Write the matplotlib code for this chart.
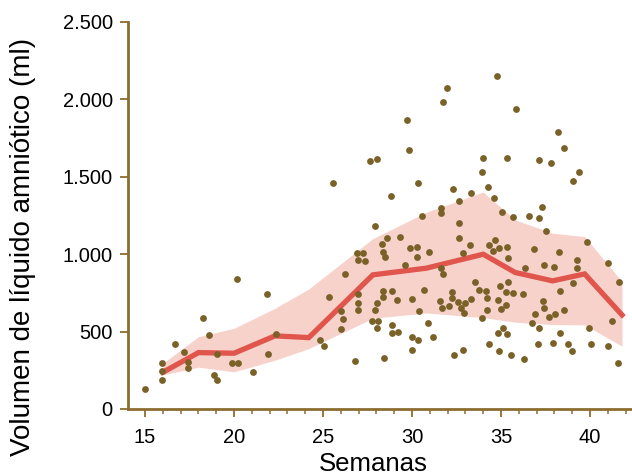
import numpy as np
import matplotlib
matplotlib.use("Agg")
import matplotlib.pyplot as plt
from matplotlib.ticker import MultipleLocator, FuncFormatter

plt.rcParams['font.family'] = ['Liberation Sans', 'DejaVu Sans']

# individual measurements (week, volume ml)
weeks = [15.0, 15.94, 15.94, 15.94, 16.69, 17.19, 17.42, 17.42, 18.28, 18.61,
         19.03, 18.9, 19.04, 19.9, 20.24, 20.17, 21.09, 21.87, 21.93, 22.34,
         24.83, 25.08, 25.35, 26.01, 26.1, 26.01, 26.24, 26.8, 26.89, 27.23,
         26.98, 27.36, 26.98, 26.98, 26.98, 27.94, 28.3, 28.35, 28.5, 28.61,
         28.39, 28.39, 28.05, 27.92, 27.75, 28.1, 28.02, 28.44, 28.86, 28.86,
         28.89, 29.14, 29.23, 29.3, 29.89, 30.3, 30.3, 29.6, 29.97, 30.39,
         29.98, 30.35, 29.98, 29.69, 29.85, 27.66, 28.05, 25.54, 28.82, 30.32,
         34.79, 31.98, 31.72, 35.84, 34.0, 35.31, 33.95, 32.28, 33.3, 34.25,
         34.6, 32.66, 31.63, 31.63, 30.56, 32.64, 35.08, 35.66, 32.64, 34.66,
         33.26, 32.85, 34.34, 34.9, 35.35, 35.4, 34.53, 30.96, 31.61, 31.76,
         33.54, 33.76, 34.16, 34.2, 34.94, 35.38, 35.28, 35.69, 30.69, 32.25,
         32.25, 31.56, 32.6, 33.0, 33.3, 32.1, 31.7, 32.74, 32.94, 34.24,
         34.85, 35.26, 35.0, 30.92, 33.92, 31.2, 35.13, 34.85, 35.32, 34.3,
         32.88, 32.36, 34.89, 35.56, 38.19, 38.56, 37.15, 37.81, 39.38, 39.06,
         37.32, 36.57, 37.12, 37.51, 39.85, 36.85, 38.28, 39.25, 39.25, 40.99,
         36.35, 37.42, 37.96, 39.06, 41.63, 38.31, 36.22, 37.38, 37.44, 38.56,
         38.03, 37.71, 36.91, 36.76, 37.12, 41.22, 39.96, 38.31, 37.1, 37.94,
         38.78, 39.0, 40.06, 40.99, 36.29, 41.55]
volumes = [127, 299, 243, 187, 422, 368, 304, 267, 586, 476,
           353, 220, 187, 299, 299, 838, 237, 743, 357, 486,
           446, 409, 721, 635, 583, 515, 872, 312, 1006, 1006,
           963, 956, 741, 687, 640, 1182, 1066, 1016, 980, 1107,
           764, 725, 683, 640, 570, 570, 521, 331, 764, 543,
           489, 704, 499, 1110, 1038, 1045, 984, 930, 711, 633,
           463, 446, 381, 1867, 1669, 1604, 1613, 1462, 1372, 1458,
           2147, 2074, 1979, 1936, 1623, 1623, 1529, 1423, 1397, 1432,
           1365, 1344, 1300, 1262, 1249, 1200, 1273, 1242, 1105, 1092,
           1059, 1006, 1059, 1038, 1048, 973, 1023, 1016, 909, 872,
           818, 769, 762, 715, 797, 822, 758, 747, 769, 754,
           715, 698, 689, 687, 709, 665, 650, 650, 618, 640,
           704, 672, 644, 557, 586, 467, 525, 489, 484, 420,
           381, 349, 375, 349, 1787, 1682, 1609, 1587, 1533, 1471,
           1303, 1247, 1234, 1148, 1081, 1032, 1012, 963, 913, 941,
           909, 928, 917, 816, 818, 764, 741, 698, 650, 640,
           612, 592, 612, 557, 525, 566, 521, 489, 418, 424,
           418, 373, 418, 407, 321, 295]

# mean curve and band
mean_weeks = [16.0, 18.0, 20.0, 22.3, 24.2, 27.8, 30.8, 34.0, 35.8, 37.9, 39.7, 41.8]
mean_vol = [237, 364, 360, 472, 461, 866, 909, 999, 881, 827, 872, 607]
band_upper = [295, 467, 521, 650, 775, 1100, 1270, 1400, 1220, 1135, 1113, 822]
band_lower = [220, 270, 240, 315, 390, 586, 620, 590, 560, 545, 543, 405]

axis_col = '#8C6D2F'

fig = plt.figure(figsize=(6.32, 4.76), dpi=100)
ax = fig.add_axes([128 / 632, 67 / 476, 504 / 632, (409 - 21.7) / 476])

ax.fill_between(mean_weeks, band_lower, band_upper, color='#F6D2CB', linewidth=0, zorder=1)
ax.plot(mean_weeks, mean_vol, color='#E0554C', linewidth=3.8, solid_joinstyle='miter', zorder=2)
ax.scatter(weeks, volumes, s=24, color='#7A6128', linewidths=0, zorder=3)

ax.set_xlim(14.04, 42.36)
ax.set_ylim(0, 2500)

ax.xaxis.set_major_locator(MultipleLocator(5))
ax.xaxis.set_minor_locator(MultipleLocator(1))
ax.yaxis.set_major_locator(MultipleLocator(500))
ax.yaxis.set_major_formatter(FuncFormatter(lambda v, p: f"{int(v):,}".replace(",", ".")))

for s in ['top', 'right']:
    ax.spines[s].set_visible(False)
for s in ['left', 'bottom']:
    ax.spines[s].set_color(axis_col)
    ax.spines[s].set_linewidth(2)

ax.tick_params(axis='both', which='major', color=axis_col, width=1.3, length=6,
               labelsize=14.5, labelcolor='black')
ax.tick_params(axis='x', which='major', pad=8)
ax.tick_params(axis='y', which='major', pad=5)
ax.tick_params(axis='x', which='minor', color=axis_col, width=1.1, length=3.5)

ax.set_xlabel('Semanas', fontsize=18.5)
ax.set_ylabel('Volumen de líquido amniótico (ml)', fontsize=20)
ax.xaxis.set_label_coords(0.486, -0.111)
ax.yaxis.set_label_coords(-0.1825, 0.418)

fig.savefig('out.png', dpi=100)
